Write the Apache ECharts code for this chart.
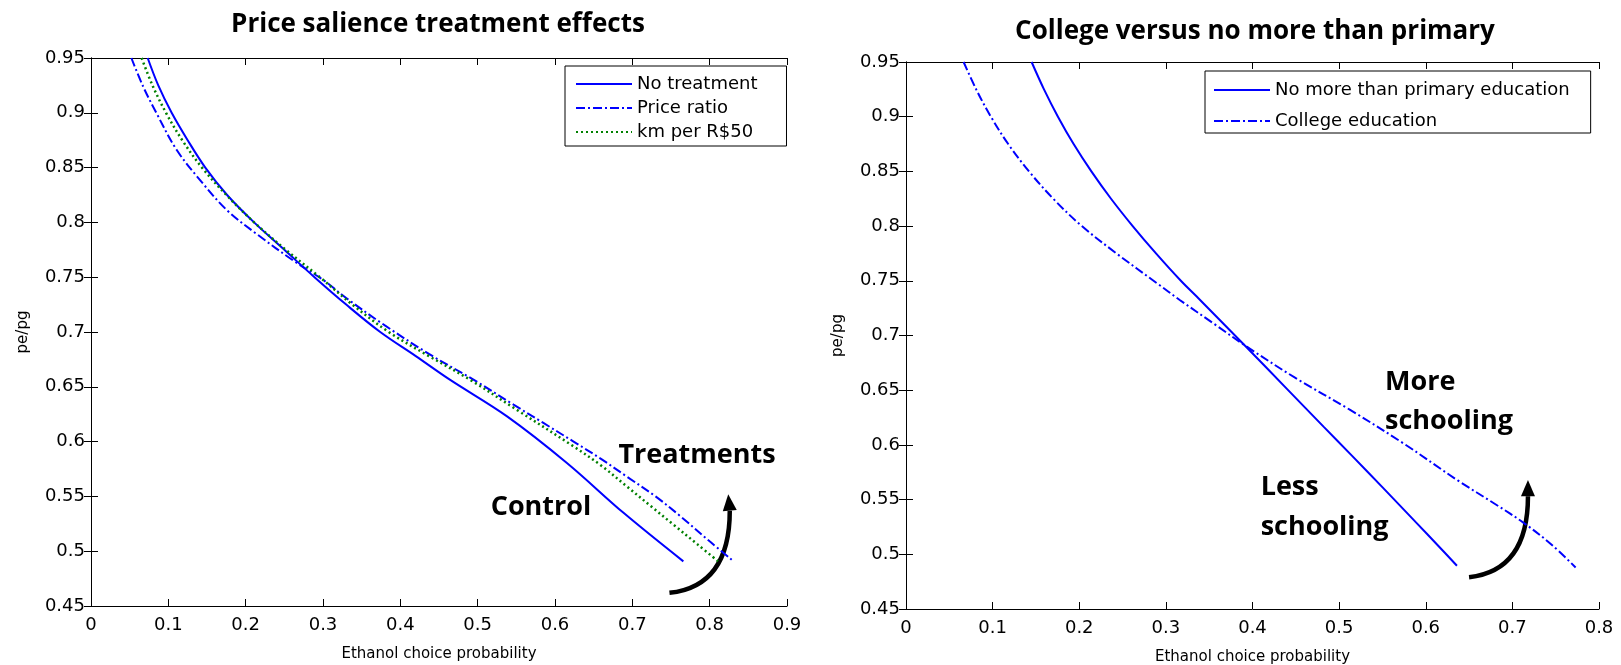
<!DOCTYPE html>
<html>
<head>
<meta charset="utf-8">
<script src="https://cdn.jsdelivr.net/npm/echarts@6/dist/echarts.min.js"></script>
<style>
  html, body { margin: 0; padding: 0; background: #fff; }
  #chart { width: 1621px; height: 665px; }
</style>
</head>
<body>
<div id="chart"></div>
<script>
// ---- Left panel: price salience treatments, [ethanol choice probability, pe/pg] ----
const noTreatment = [
  [0.0733, 0.95], [0.087, 0.925], [0.1043, 0.90], [0.125, 0.875], [0.1478, 0.85],
  [0.176, 0.825], [0.2109, 0.80], [0.25, 0.775], [0.289, 0.75], [0.33, 0.725],
  [0.374, 0.70], [0.42, 0.678], [0.464, 0.6565], [0.538, 0.623], [0.6154, 0.5805],
  [0.6886, 0.535], [0.766, 0.4907]
];
const priceRatio = [
  [0.0522, 0.95], [0.0674, 0.924], [0.0848, 0.8995], [0.1109, 0.866], [0.1413, 0.8384],
  [0.176, 0.811], [0.215, 0.789], [0.263, 0.7645], [0.302, 0.7466], [0.33, 0.731],
  [0.38, 0.706], [0.437, 0.68], [0.4946, 0.6565], [0.5464, 0.6337], [0.585, 0.617],
  [0.624, 0.600], [0.66, 0.584], [0.693, 0.568], [0.73, 0.550], [0.762, 0.532],
  [0.80, 0.509], [0.831, 0.4907]
];
const kmPerR50 = [
  [0.0655, 0.95], [0.0795, 0.925], [0.097, 0.90], [0.118, 0.875], [0.1435, 0.85],
  [0.175, 0.825], [0.211, 0.80], [0.252, 0.775], [0.296, 0.75], [0.338, 0.725],
  [0.385, 0.70], [0.437, 0.678], [0.490, 0.6565], [0.5506, 0.629], [0.624, 0.5956],
  [0.66, 0.578], [0.693, 0.559], [0.725, 0.5405], [0.753, 0.5243], [0.785, 0.5058],
  [0.8137, 0.4892]
];

// ---- Right panel: schooling groups ----
const primaryEdu = [
  [0.145, 0.95], [0.1593, 0.925], [0.1754, 0.90], [0.1935, 0.875], [0.214, 0.85],
  [0.2367, 0.825], [0.2617, 0.80], [0.2886, 0.775], [0.3173, 0.75], [0.3395, 0.7325],
  [0.3934, 0.689], [0.44, 0.651], [0.482, 0.6167], [0.515, 0.590], [0.551, 0.5605],
  [0.589, 0.529], [0.613, 0.509], [0.636, 0.4895]
];
const collegeEdu = [
  [0.0665, 0.95], [0.081, 0.925], [0.098, 0.90], [0.118, 0.875], [0.142, 0.85],
  [0.17, 0.825], [0.203, 0.80], [0.243, 0.775], [0.29, 0.7476], [0.316, 0.7325],
  [0.355, 0.711], [0.3934, 0.6898], [0.45, 0.661], [0.5127, 0.632], [0.575, 0.601],
  [0.637, 0.5675], [0.68, 0.546], [0.7126, 0.529], [0.745, 0.509], [0.773, 0.488]
];

// Panel titles, legend entries and in-plot notes
const titles = ['Price salience treatment effects', 'College versus no more than primary'];
const leftNames = ['No treatment', 'Price ratio', 'km per R$50'];
const rightNames = ['No more than primary education', 'College education'];
const xName = 'Ethanol choice probability';
const yName = 'pe/pg';

// notes: [panel, text, x, y, align]
const notes = [
  [0, 'Treatments', 0.7837, 0.5875, 'center'],
  [0, 'Control', 0.5819, 0.540, 'center'],
  [1, 'More', 0.553, 0.6573, 'left'],
  [1, 'schooling', 0.553, 0.6217, 'left'],
  [1, 'Less', 0.4094, 0.5609, 'left'],
  [1, 'schooling', 0.4094, 0.5244, 'left']
];
// curved arrows: [panel, start, control, end, tip]
const arrows = [
  [0, [0.748, 0.462], [0.826, 0.468], [0.826, 0.537], [0.824, 0.552]],
  [1, [0.650, 0.479], [0.718, 0.485], [0.718, 0.553], [0.718, 0.568]]
];

const BLUE = '#0000ff';
const GREEN = '#008000';
const TXT = 'DejaVu Sans';
const grids = [
  { left: 91, top: 58, width: 696, height: 548, outerBoundsMode: 'none', containLabel: false },
  { left: 906, top: 62, width: 693, height: 547, outerBoundsMode: 'none', containLabel: false }
];
const xMax = [0.9, 0.8];

const fmt = v => String(+v.toFixed(2));

function xAxes(g) {
  const base = {
    type: 'value', gridIndex: g, min: 0, max: xMax[g], interval: 0.1,
    axisLine: { lineStyle: { color: '#000', width: 1 } },
    axisTick: { inside: true, length: 7, lineStyle: { color: '#000' } },
    splitLine: { show: false }
  };
  return [
    Object.assign({}, base, {
      position: 'bottom',
      axisLabel: { color: '#000', fontFamily: TXT, fontSize: 18, margin: 10, formatter: fmt },
      name: xName, nameLocation: 'middle', nameGap: 41,
      nameTextStyle: { color: '#000', fontFamily: TXT, fontSize: 15 }
    }),
    Object.assign({}, base, { position: 'top', axisLabel: { show: false } })
  ];
}
function yAxes(g) {
  const base = {
    type: 'value', gridIndex: g, min: 0.45, max: 0.95, interval: 0.05,
    axisLine: { lineStyle: { color: '#000', width: 1 } },
    axisTick: { inside: true, length: 7, lineStyle: { color: '#000' } },
    splitLine: { show: false }
  };
  return [
    Object.assign({}, base, {
      position: 'left',
      axisLabel: { color: '#000', fontFamily: TXT, fontSize: 18, margin: 6, formatter: fmt },
      name: yName, nameLocation: 'middle', nameGap: 60,
      nameTextStyle: { color: '#000', fontFamily: TXT, fontSize: 15 }
    }),
    Object.assign({}, base, { position: 'right', axisLabel: { show: false } })
  ];
}

function line(name, data, axisIdx, color, type, width) {
  return {
    name, type: 'line', data, xAxisIndex: axisIdx, yAxisIndex: axisIdx,
    symbol: 'none', smooth: 0.35, animation: false,
    lineStyle: { color, type, width }, itemStyle: { color }
  };
}

const legendBase = {
  orient: 'vertical', backgroundColor: '#fff', borderColor: '#000', borderWidth: 1,
  itemWidth: 56, itemHeight: 12, selectedMode: false,
  itemStyle: { opacity: 0 },
  textStyle: { color: '#000', fontFamily: TXT, fontSize: 18, padding: [0, 0, 0, 0] }
};

const chart = echarts.init(document.getElementById('chart'), null, { renderer: 'canvas' });
chart.setOption({
  animation: false,
  backgroundColor: '#fff',
  title: [
    { text: titles[0], left: 433, top: 7, textAlign: 'center',
      textStyle: { fontFamily: 'Open Sans', fontWeight: 'bold', fontSize: 26, color: '#000' } },
    { text: titles[1], left: 1250, top: 14, textAlign: 'center',
      textStyle: { fontFamily: 'Open Sans', fontWeight: 'bold', fontSize: 26, color: '#000' } }
  ],
  grid: grids,
  xAxis: xAxes(0).concat(xAxes(1)),
  yAxis: yAxes(0).concat(yAxes(1)),
  legend: [
    Object.assign({}, legendBase, { data: leftNames, left: 565, top: 66, itemGap: 6, padding: [9, 29, 5, 10] }),
    Object.assign({}, legendBase, { data: rightNames, left: 1205, top: 71, itemGap: 13, padding: [10, 21, 3, 8] })
  ],
  series: [
    line(leftNames[0], noTreatment, 0, BLUE, 'solid', 2),
    line(leftNames[1], priceRatio, 0, BLUE, [9, 3, 2, 3], 2),
    line(leftNames[2], kmPerR50, 0, GREEN, [2, 3], 2.5),
    line(rightNames[0], primaryEdu, 2, BLUE, 'solid', 2),
    line(rightNames[1], collegeEdu, 2, BLUE, [9, 3, 2, 3], 2)
  ]
});

// Notes and arrows are placed in data space and converted through each panel's axes
function toPx(panel, p) {
  const idx = panel * 2;
  return chart.convertToPixel({ xAxisIndex: idx, yAxisIndex: idx }, p);
}
const graphics = [];
notes.forEach(([panel, text, x, y, align]) => {
  const [px, py] = toPx(panel, [x, y]);
  graphics.push({
    type: 'text', x: px, y: py, silent: true,
    style: { text, fill: '#000', font: 'bold 27px "Open Sans"', textAlign: align, textVerticalAlign: 'middle' }
  });
});
arrows.forEach(([panel, s, c, e, t]) => {
  const S = toPx(panel, s), C = toPx(panel, c), E = toPx(panel, e), T = toPx(panel, t);
  graphics.push({
    type: 'bezierCurve', silent: true,
    shape: { x1: S[0], y1: S[1], cpx1: C[0], cpy1: C[1], x2: E[0], y2: E[1] },
    style: { stroke: '#000', lineWidth: 4.5, fill: null, lineCap: 'butt' }
  });
  const dx = T[0] - E[0], dy = T[1] - E[1];
  const len = Math.hypot(dx, dy) || 1;
  const nx = -dy / len, ny = dx / len;
  const half = 7;
  graphics.push({
    type: 'polygon', silent: true,
    shape: { points: [[T[0], T[1]], [E[0] + nx * half, E[1] + ny * half], [E[0] - nx * half, E[1] - ny * half]] },
    style: { fill: '#000' }
  });
});
chart.setOption({ graphic: graphics });
</script>
</body>
</html>
